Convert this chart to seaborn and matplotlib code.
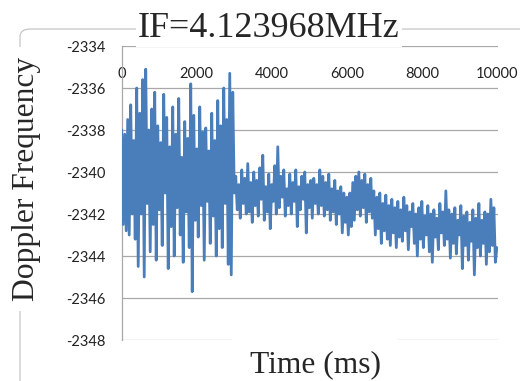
import numpy as np
import pandas as pd
import matplotlib
matplotlib.use("Agg")
import matplotlib.pyplot as plt
from matplotlib.patches import FancyBboxPatch
import seaborn as sns

# Doppler frequency estimates (Hz), one sample every 40 ms from 0 to 10000 ms
SAMPLE_MS = 40

doppler_acq = [  # 0 .. 2960 ms, strong fluctuation
    -2338.0, -2342.5, -2338.2, -2342.8, -2337.5, -2343.0, -2336.8, -2342.0,
    -2338.5, -2343.2, -2336.0, -2344.5, -2337.2, -2342.0, -2335.6, -2345.0,
    -2335.1, -2341.5, -2338.0, -2343.8, -2337.0, -2342.5, -2336.2, -2344.2,
    -2337.8, -2341.8, -2338.6, -2343.5, -2336.3, -2341.0, -2337.4, -2344.6,
    -2338.8, -2342.6, -2336.9, -2344.0, -2338.2, -2341.7, -2336.5, -2343.0,
    -2339.3, -2344.3, -2337.6, -2341.9, -2338.4, -2343.6, -2335.8, -2345.7,
    -2337.3, -2342.3, -2338.9, -2343.1, -2336.9, -2341.6, -2338.1, -2344.2,
    -2337.9, -2341.4, -2339.0, -2343.4, -2337.2, -2342.1, -2338.5, -2344.0,
    -2336.6, -2342.7, -2337.8, -2343.6, -2336.0, -2341.5, -2337.5, -2344.4,
    -2335.3, -2344.9, -2336.2,
]

doppler_track = [  # 3000 .. 5960 ms
    -2341.0, -2340.2, -2341.8, -2340.6, -2342.2, -2339.9, -2341.5, -2340.3,
    -2342.0, -2339.6, -2341.9, -2340.5, -2342.4, -2340.0, -2341.6, -2340.4,
    -2342.1, -2339.8, -2341.3, -2339.2, -2342.3, -2340.7, -2341.9, -2340.1,
    -2342.7, -2340.6, -2341.4, -2339.7, -2342.0, -2338.8, -2341.7, -2340.2,
    -2341.2, -2339.9, -2342.1, -2340.8, -2341.6, -2340.1, -2342.0, -2340.5,
    -2341.4, -2339.9, -2342.6, -2340.7, -2341.8, -2340.2, -2341.3, -2340.0,
    -2342.9, -2340.6, -2341.7, -2340.4, -2342.2, -2340.3, -2341.5, -2340.6,
    -2342.0, -2339.9, -2341.6, -2340.2, -2342.1, -2340.5, -2341.8, -2340.1,
    -2342.3, -2340.8, -2341.9, -2340.4, -2342.5, -2340.9, -2342.0, -2340.7,
    -2342.9, -2341.0, -2342.4,
]

doppler_drift = [  # 6000 .. 10000 ms
    -2341.2, -2343.0, -2341.0, -2342.6, -2340.5, -2342.3, -2340.2, -2341.8,
    -2340.0, -2342.1, -2340.4, -2341.7, -2340.1, -2342.4, -2340.6, -2341.9,
    -2340.3, -2342.2, -2340.9, -2343.0, -2341.2, -2342.7, -2341.0, -2343.4,
    -2341.5, -2342.8, -2341.1, -2343.2, -2341.6, -2343.5, -2341.3, -2342.9,
    -2341.7, -2343.6, -2341.4, -2343.1, -2341.8, -2343.3, -2341.2, -2342.8,
    -2341.6, -2343.7, -2341.9, -2342.6, -2341.5, -2343.4, -2342.0, -2344.0,
    -2341.7, -2343.2, -2341.4, -2343.6, -2342.1, -2343.0, -2341.6, -2343.8,
    -2342.0, -2344.3, -2341.8, -2343.1, -2342.2, -2343.7, -2341.5, -2342.9,
    -2341.9, -2343.5, -2340.9, -2343.2, -2341.8, -2344.1, -2342.0, -2343.4,
    -2341.7, -2343.9, -2342.3, -2343.0, -2341.6, -2344.6, -2342.1, -2343.5,
    -2341.9, -2344.2, -2342.4, -2343.3, -2341.8, -2344.9, -2342.2, -2343.6,
    -2341.5, -2344.0, -2342.3, -2343.4, -2341.9, -2344.4, -2342.0, -2343.8,
    -2341.3, -2343.5, -2341.7, -2344.3, -2343.6,
]

x_ticks = [0, 2000, 4000, 6000, 8000, 10000]
y_ticks = [-2348, -2346, -2344, -2342, -2340, -2338, -2336, -2334]

title_text = "IF=4.123968MHz"
x_label = "Time (ms)"
y_label = "Doppler Frequency"

doppler = doppler_acq + doppler_track + doppler_drift
df = pd.DataFrame({
    "time_ms": np.arange(len(doppler)) * SAMPLE_MS,
    "doppler_hz": doppler,
})

sns.set_style("white")
plt.rcParams["font.family"] = ["Lato", "DejaVu Sans"]

W, H = 520, 381
fig = plt.figure(figsize=(W / 100, H / 100), dpi=100)

# rounded chart-area frame
frame = FancyBboxPatch((20 / W, 1 - 450 / H), 560 / W, 421 / H,
                       boxstyle="round,pad=0,rounding_size=0.02",
                       transform=fig.transFigure, facecolor="none",
                       edgecolor="#c6c6c6", linewidth=0.9, zorder=0)
fig.patches.append(frame)

ax = fig.add_axes([121.7 / W, 1 - 340 / H, (498 - 121.7) / W, (340 - 46) / H])
grid_color = "#a8a8a8"

sns.lineplot(data=df, x="time_ms", y="doppler_hz", ax=ax,
             color="#4a7ebb", linewidth=2.0, zorder=3)

ax.set_xlim(0, 10030)
ax.set_ylim(y_ticks[0], y_ticks[-1])
ax.set_yticks(y_ticks)
ax.set_xticks(x_ticks)
ax.set_yticklabels([str(v) for v in y_ticks])
ax.set_xticklabels([str(v) for v in x_ticks])

for v in y_ticks:
    ax.axhline(v, color=grid_color, linewidth=0.9, zorder=1)

for side in ["top", "right", "bottom"]:
    ax.spines[side].set_visible(False)
ax.spines["left"].set_color(grid_color)
ax.spines["left"].set_linewidth(0.9)

ax.xaxis.tick_top()
ax.tick_params(axis="x", top=True, bottom=False, labeltop=True,
               labelbottom=False, length=0, pad=-25, labelsize=10.5,
               labelcolor="#222222")
ax.tick_params(axis="y", length=0, pad=12, labelsize=10.5,
               labelcolor="#222222")
ax.set_xlabel("")
ax.set_ylabel("")

serif = ["Liberation Serif", "DejaVu Serif"]
fig.text(269 / W, 1 - 37 / H, title_text, family=serif, fontsize=26,
         ha="center", va="baseline",
         bbox=dict(boxstyle="square,pad=0.05", facecolor="white",
                   edgecolor="none"))
fig.text(315 / W, 1 - 372 / H, x_label, family=serif, fontsize=22.7,
         ha="center", va="baseline",
         bbox=dict(boxstyle="square,pad=0.55", facecolor="white",
                   edgecolor="none"))
fig.text(27 / W, 1 - 179 / H, y_label, family=serif, fontsize=22.7,
         ha="center", va="center", rotation=90,
         bbox=dict(boxstyle="square,pad=0.3", facecolor="white",
                   edgecolor="none"))

fig.savefig("out.png", dpi=100)
